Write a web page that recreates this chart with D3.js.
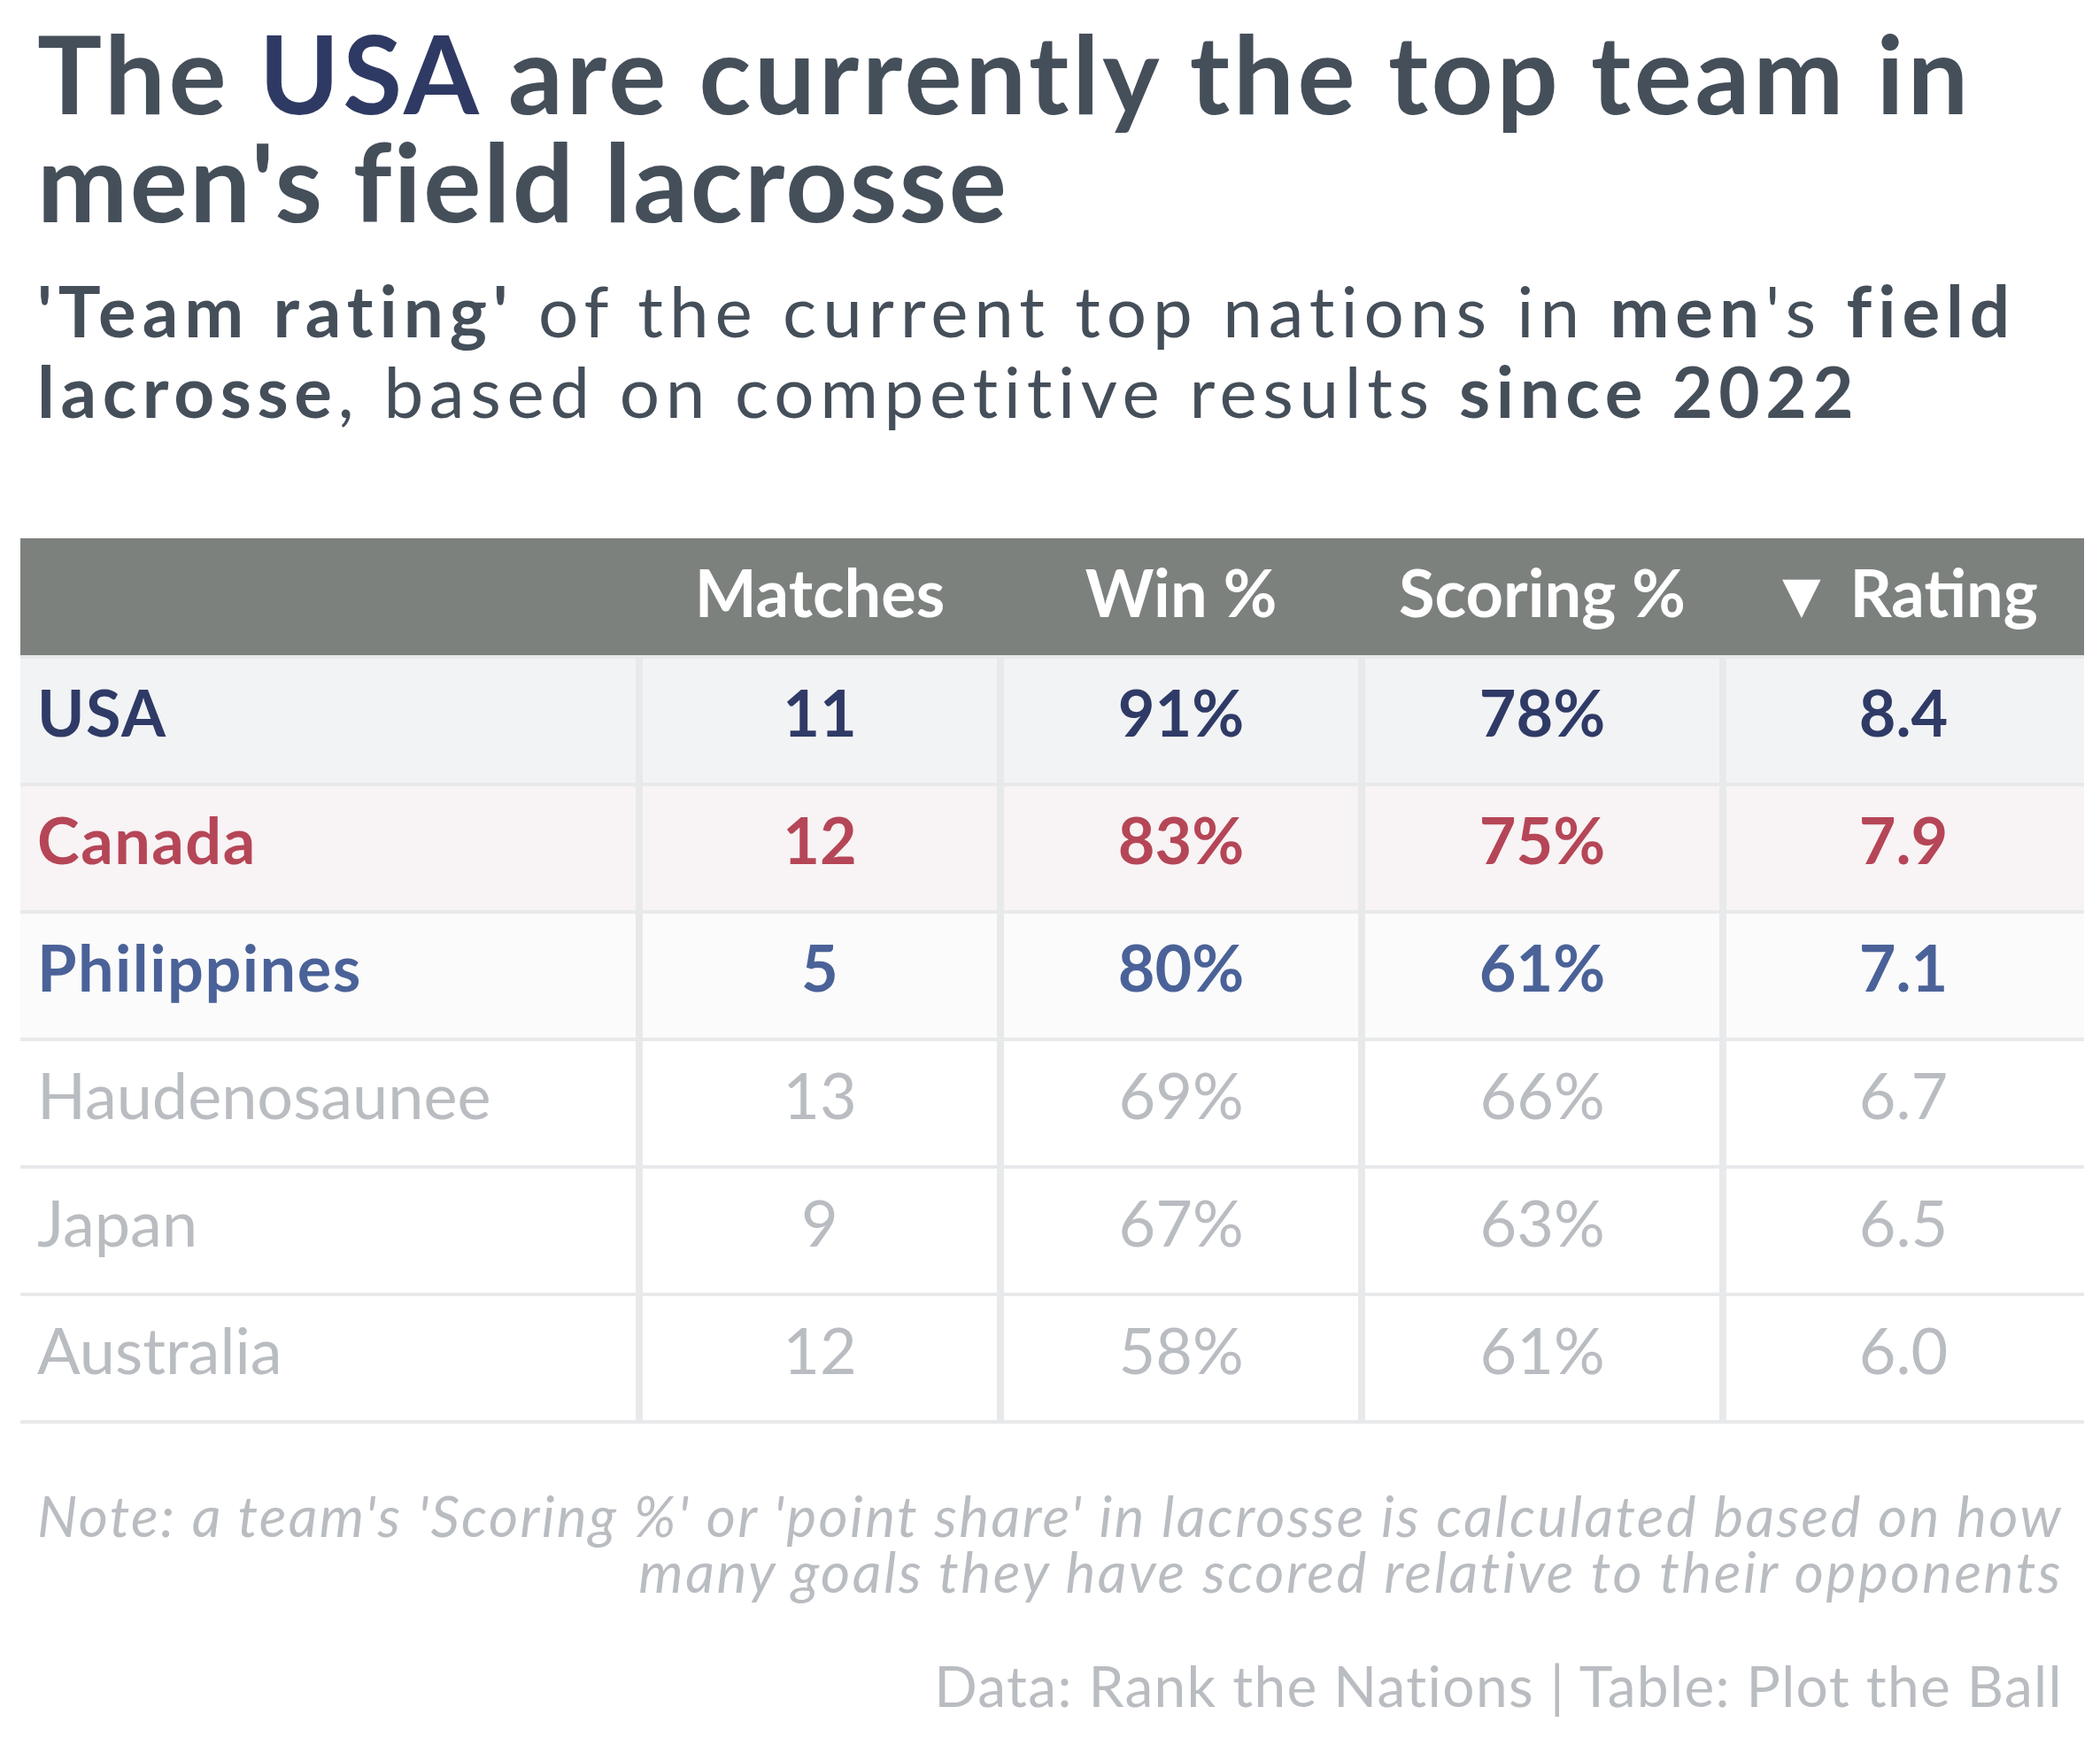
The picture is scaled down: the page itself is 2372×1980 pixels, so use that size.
<!DOCTYPE html>
<html>
<head>
<meta charset="utf-8">
<script src="https://cdn.jsdelivr.net/npm/d3@7"></script>
<style>
  body { margin: 0; background: #ffffff; }
  svg { display: block; font-family: Lato, "Open Sans", sans-serif; }
</style>
</head>
<body>
<svg id="chart" width="2372" height="1980"></svg>
<script>
// table values
const teams = ['USA', 'Canada', 'Philippines', 'Haudenosaunee', 'Japan', 'Australia'];
const matches = [11, 12, 5, 13, 9, 12];
const winPct = [91, 83, 80, 69, 67, 58];
const scoringPct = [78, 75, 61, 66, 63, 61];
const rating = [8.4, 7.9, 7.1, 6.7, 6.5, 6.0];
const columns = ['Matches', 'Win %', 'Scoring %', '\u25BC Rating'];

// highlighted teams get their own colours, the rest are greyed out
const textColor = { USA: '#2f3b66', Canada: '#b54657', Philippines: '#4a6298' };
const rowFill = { USA: '#f2f3f5', Canada: '#f8f3f4', Philippines: '#fbfbfb' };
const GREY = '#b9bcc0';
const INK = '#454f5a';
const LINE = '#e8e9eb';

const TABLE = { left: 23, right: 2354, headTop: 608, headBottom: 740, firstCol: 722 };
const ROW_H = 144;

const svg = d3.select('#chart');

// stretch or shrink one line so it spans the given width
function fitLine(line, target) {
    let node = line.node();
    let w = node.getComputedTextLength();
    let n = line.text().length;
    if (w > target) {
        let fs = parseFloat(line.attr('font-size'));
        line.attr('font-size', fs * target / w);
    } else {
        line.attr('letter-spacing', (target - w) / n);
    }
}

// one text element, several lines; each line is a list of [text, bold, colour]
function textBlock(opts) {
    let t = svg.append('text')
        .attr('fill', opts.fill || INK)
        .attr('font-style', opts.italic ? 'italic' : 'normal');
    opts.lines.forEach((parts, k) => {
        let line = t.append('tspan')
            .attr('x', opts.x)
            .attr('y', opts.y[k])
            .attr('font-size', opts.size);
        parts.forEach(p => {
            line.append('tspan')
                .text(p[0])
                .attr('font-weight', p[1] ? 700 : 400)
                .attr('fill', p[2] || opts.fill || INK);
        });
        fitLine(line, opts.widths[k]);
        if (opts.right) {
            line.attr('x', opts.right - line.node().getComputedTextLength());
        }
    });
    return t;
}

// title
textBlock({
    x: 42, y: [129, 251], size: 122,
    lines: [
        [['The ', 1], ['USA', 1, '#2f3a64'], [' are currently the top team in', 1]],
        [["men's field lacrosse", 1]]
    ],
    widths: [2185, 1096]
});

// subtitle
textBlock({
    x: 42, y: [381, 472], size: 80,
    lines: [
        [["'Team rating'", 1], [' of the current top nations in ', 0], ['men', 1], ["'s ", 0], ['field', 1]],
        [['lacrosse', 1], [', based on competitive results ', 0], ['since 2022', 1]]
    ],
    widths: [2237, 2061]
});

// scales
let yScale = d3.scaleBand()
    .domain(teams)
    .range([TABLE.headBottom, TABLE.headBottom + ROW_H * teams.length]);
let xScale = d3.scaleBand()
    .domain(columns)
    .range([TABLE.firstCol, TABLE.right]);

// header band
svg.append('rect')
    .attr('x', TABLE.left)
    .attr('y', TABLE.headTop)
    .attr('width', TABLE.right - TABLE.left)
    .attr('height', TABLE.headBottom - TABLE.headTop)
    .attr('fill', '#7c817e');

svg.append('g')
    .selectAll('text')
    .data(columns)
    .join('text')
    .attr('x', d => xScale(d) + xScale.bandwidth() / 2)
    .attr('y', 697)
    .attr('text-anchor', 'middle')
    .attr('font-size', 74)
    .attr('font-weight', 700)
    .attr('fill', '#ffffff')
    .text(d => d);

// row backgrounds and row rules
let rows = svg.append('g')
    .selectAll('g')
    .data(teams)
    .join('g')
    .attr('transform', d => `translate(0, ${yScale(d)})`);

rows.append('rect')
    .attr('x', TABLE.left)
    .attr('y', 4)
    .attr('width', TABLE.right - TABLE.left)
    .attr('height', yScale.bandwidth() - 4)
    .attr('fill', d => rowFill[d] || '#ffffff');

rows.append('rect')
    .attr('x', TABLE.left)
    .attr('y', 0)
    .attr('width', TABLE.right - TABLE.left)
    .attr('height', 4)
    .attr('fill', LINE);

svg.append('rect')
    .attr('x', TABLE.left)
    .attr('y', yScale.range()[1])
    .attr('width', TABLE.right - TABLE.left)
    .attr('height', 4)
    .attr('fill', LINE);

// column rules
svg.append('g')
    .selectAll('rect')
    .data(columns)
    .join('rect')
    .attr('x', d => xScale(d) - 4)
    .attr('y', yScale.range()[0] + 4)
    .attr('width', 8)
    .attr('height', yScale.range()[1] - yScale.range()[0] - 4)
    .attr('fill', LINE);

// cell text
rows.append('text')
    .attr('x', 42)
    .attr('y', 92)
    .attr('font-size', 72)
    .attr('letter-spacing', d => textColor[d] ? 1.5 : 0)
    .attr('font-weight', d => textColor[d] ? 700 : 400)
    .attr('fill', d => textColor[d] || GREY)
    .text(d => d);

let cellValues = i => [matches[i], winPct[i] + '%', scoringPct[i] + '%', rating[i].toFixed(1)];

rows.each(function(team, i) {
    d3.select(this)
        .selectAll('text.cell')
        .data(cellValues(i))
        .join('text')
        .attr('class', 'cell')
        .attr('x', (v, j) => xScale(columns[j]) + xScale.bandwidth() / 2)
        .attr('y', 92)
        .attr('text-anchor', 'middle')
        .attr('font-size', 72)
        .attr('font-weight', textColor[team] ? 700 : 400)
        .attr('fill', textColor[team] || GREY)
        .text(v => v);
});

// note and source, right aligned
textBlock({
    x: 42, y: [1736, 1799], size: 64, italic: true, fill: GREY, right: 2330,
    lines: [
        [["Note: a team's 'Scoring %' or 'point share' in lacrosse is calculated based on how", 0]],
        [['many goals they have scored relative to their opponents', 0]]
    ],
    widths: [2288, 1608]
});

textBlock({
    x: 1054, y: [1928], size: 64, fill: GREY, right: 2330,
    lines: [[['Data: Rank the Nations | Table: Plot the Ball', 0]]],
    widths: [1276]
});
</script>
</body>
</html>
